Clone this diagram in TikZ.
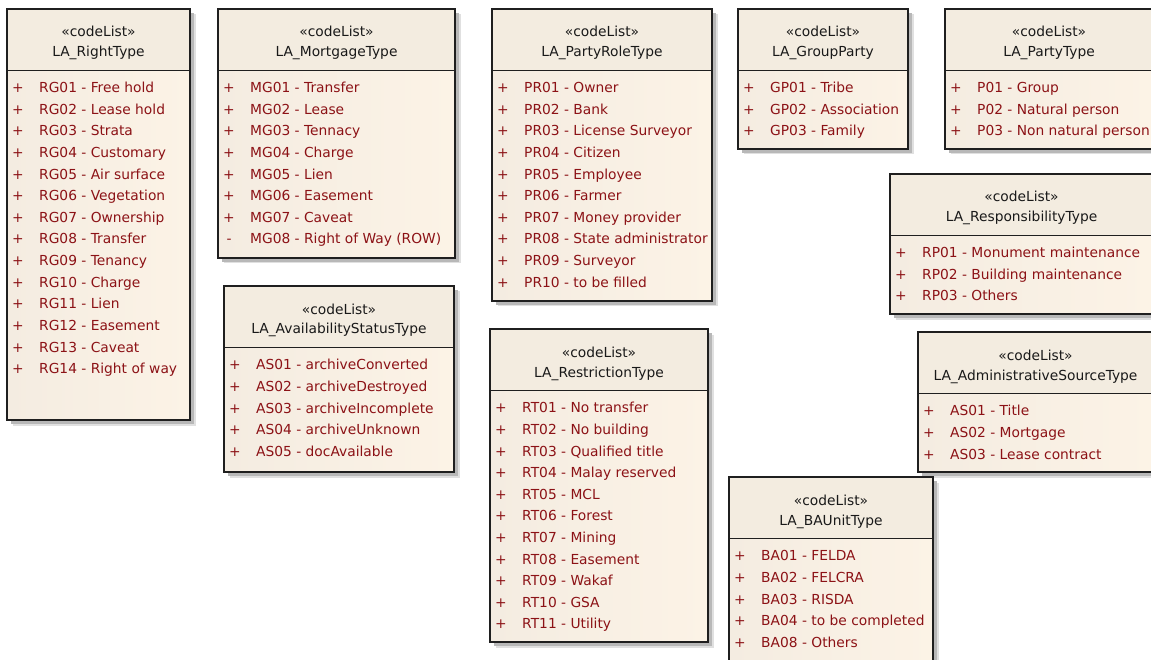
\documentclass[tikz,border=0pt]{standalone}
\usepackage{fontspec}
\setmainfont{DejaVu Sans}
\definecolor{headc}{RGB}{243,236,224}
\definecolor{bodyl}{RGB}{244,236,225}
\definecolor{bodyr}{RGB}{252,243,230}
\definecolor{itemc}{RGB}{140,18,22}
\definecolor{shadc}{RGB}{184,184,184}
\definecolor{shadl}{RGB}{224,224,224}
\tikzset{
  boxframe/.style={draw=black!88, line width=1.4pt, inner sep=0pt, outer sep=0pt},
  hdtext/.style={font=\fontsize{13.8}{16}\selectfont, text=black!90, anchor=base, inner sep=0pt},
  itemtext/.style={font=\fontsize{13.8}{16}\selectfont, text=itemc, anchor=base west, inner sep=0pt},
  marktext/.style={font=\fontsize{13.8}{16}\selectfont, text=itemc, anchor=base, inner sep=0pt}
}
\newcommand\codelistbox[7]{%
  \pgfmathsetmacro\bw{#4-#2}\pgfmathsetmacro\bh{#5-#3}\pgfmathsetmacro\bc{(#2+#4)/2}%
  \fill[shadl] (#2+5.5,-#3-5.5) rectangle (#4+5.5,-#5-5.5);
  \fill[shadc] (#2+4,-#3-4) rectangle (#4+4,-#5-4);
  \shade[left color=bodyl,right color=bodyr] (#2,-#3) rectangle (#4,-#5);
  \fill[headc] (#2,-#3) rectangle (#4,-#3-61.5);
  \node[boxframe, minimum width=\bw pt, minimum height=\bh pt, anchor=north west] (#1) at (#2,-#3) {};
  \draw[boxframe] ([yshift=-61.5pt]#1.north west) -- ([yshift=-61.5pt]#1.north east);
  \node[hdtext] (#1-st) at (\bc,-#3-28) {«codeList»};
  \node[hdtext] (#1-nm) at (\bc,-#3-48) {#6};
  \foreach \s/\t [count=\i] in {#7}{%
    \pgfmathsetmacro\yy{-(#3+61.5+17.3+(\i-1)*21.6+5)}%
    \node[marktext] (#1-m\i) at (#2+11,\yy) {\s};
    \node[itemtext] (#1-i\i) at (#2+32,\yy) {\t};
  }%
}
\begin{document}
\begin{tikzpicture}[x=1pt,y=1pt]
\useasboundingbox (0,0) rectangle (1151,-660);
\clip (0,0) rectangle (1151,-660);
\fill[white] (0,0) rectangle (1151,-660);

\codelistbox{rt}{7}{9}{190}{420}{LA\_RightType}{+/RG01 - Free hold, +/RG02 - Lease hold, +/RG03 - Strata, +/RG04 - Customary, +/RG05 - Air surface, +/RG06 - Vegetation, +/RG07 - Ownership, +/RG08 - Transfer, +/RG09 - Tenancy, +/RG10 - Charge, +/RG11 - Lien, +/RG12 - Easement, +/RG13 - Caveat, +/RG14 - Right of way}

\codelistbox{mg}{218}{9}{455}{258}{LA\_MortgageType}{+/MG01 - Transfer, +/MG02 - Lease, +/MG03 - Tennacy, +/MG04 - Charge, +/MG05 - Lien, +/MG06 - Easement, +/MG07 - Caveat, -/MG08 - Right of Way (ROW)}

\codelistbox{pr}{492}{9}{712}{301}{LA\_PartyRoleType}{+/PR01 - Owner, +/PR02 - Bank, +/PR03 - License Surveyor, +/PR04 - Citizen, +/PR05 - Employee, +/PR06 - Farmer, +/PR07 - Money provider, +/PR08 - State administrator, +/PR09 - Surveyor, +/PR10 - to be filled}

\codelistbox{gp}{738}{9}{908}{149}{LA\_GroupParty}{+/GP01 - Tribe, +/GP02 - Association, +/GP03 - Family}

\codelistbox{pt}{945}{9}{1153}{149}{LA\_PartyType}{+/P01 - Group, +/P02 - Natural person, +/P03 - Non natural person}

\codelistbox{rp}{890}{174}{1153}{314}{LA\_ResponsibilityType}{+/RP01 - Monument maintenance, +/RP02 - Building maintenance, +/RP03 - Others}

\codelistbox{ad}{918}{332}{1153}{472}{LA\_AdministrativeSourceType}{+/AS01 - Title, +/AS02 - Mortgage, +/AS03 - Lease contract}

\codelistbox{av}{224}{286}{454}{472}{LA\_AvailabilityStatusType}{+/AS01 - archiveConverted, +/AS02 - archiveDestroyed, +/AS03 - archiveIncomplete, +/AS04 - archiveUnknown, +/AS05 - docAvailable}

\codelistbox{rs}{490}{329}{708}{642}{LA\_RestrictionType}{+/RT01 - No transfer, +/RT02 - No building, +/RT03 - Qualified title, +/RT04 - Malay reserved, +/RT05 - MCL, +/RT06 - Forest, +/RT07 - Mining, +/RT08 - Easement, +/RT09 - Wakaf, +/RT10 - GSA, +/RT11 - Utility}

\codelistbox{ba}{729}{477}{933}{668}{LA\_BAUnitType}{+/BA01 - FELDA, +/BA02 - FELCRA, +/BA03 - RISDA, +/BA04 - to be completed, +/BA08 - Others}
\end{tikzpicture}
\end{document}
